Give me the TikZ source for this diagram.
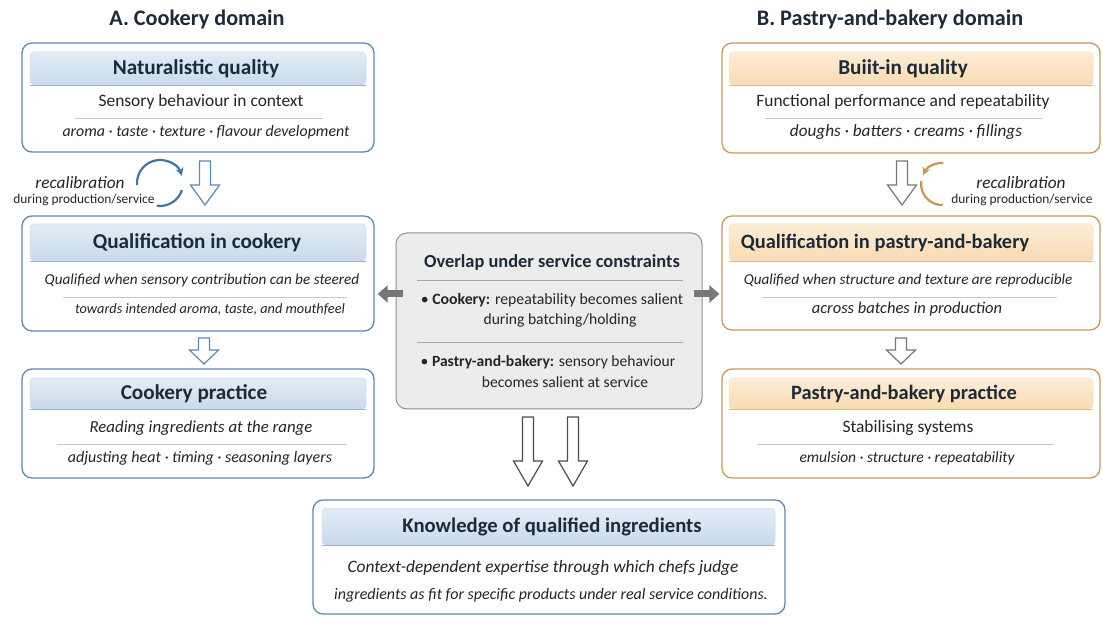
\documentclass[tikz,border=0pt]{standalone}
\usepackage{fontspec}
\setmainfont{Carlito}
\usetikzlibrary{arrows.meta,positioning}

\definecolor{borderA}{HTML}{5D88B3}
\definecolor{bandAtop}{HTML}{E2ECF6}
\definecolor{bandAbot}{HTML}{C9DAEB}
\definecolor{bandAline}{HTML}{98B2CC}
\definecolor{borderB}{HTML}{C99A5B}
\definecolor{bandBtop}{HTML}{FDEDD6}
\definecolor{bandBbot}{HTML}{F8DBB2}
\definecolor{bandBline}{HTML}{E0B985}
\definecolor{overlapfill}{HTML}{ECECEC}
\definecolor{overlapdraw}{HTML}{909090}
\definecolor{headtext}{HTML}{1D2A3A}
\definecolor{bodytext}{HTML}{252525}
\definecolor{sepgray}{HTML}{C6C6C6}
\definecolor{arrowgray}{HTML}{777777}
\definecolor{recalA}{HTML}{3F74A8}
\definecolor{recalB}{HTML}{C9964D}

% hollow block arrow: x, top, head start, tip, colour
\newcommand{\hollowarrow}[5]{%
  \draw[hollow, draw=#5] (#1-5.5,#2) -- (#1+5.5,#2) -- (#1+5.5,#3) -- (#1+14.5,#3)
    -- (#1,#4) -- (#1-14.5,#3) -- (#1-5.5,#3) -- cycle;}

\begin{document}
\begin{tikzpicture}[x=1pt,y=-1pt,
  boxA/.style={draw=borderA, line width=1.3pt, rounded corners=10pt, fill=white, inner sep=0pt},
  boxB/.style={boxA, draw=borderB},
  bandA/.style={draw=bandAline!45, line width=0.5pt, top color=bandAtop, bottom color=bandAbot,
    rounded corners=4pt, inner sep=0pt,
    append after command={(\tikzlastnode.south west) edge[draw=bandAline, line width=1pt] (\tikzlastnode.south east)}},
  bandB/.style={draw=bandBline!45, line width=0.5pt, top color=bandBtop, bottom color=bandBbot,
    rounded corners=4pt, inner sep=0pt,
    append after command={(\tikzlastnode.south west) edge[draw=bandBline, line width=1pt] (\tikzlastnode.south east)}},
  overlapbox/.style={draw=overlapdraw, line width=1pt, rounded corners=11pt, fill=overlapfill, inner sep=0pt},
  domaintitle/.style={font=\fontsize{22.2}{26}\selectfont\bfseries, text=headtext},
  heading/.style={font=\fontsize{#1}{#1}\selectfont\bfseries, text=headtext, inner sep=0pt},
  heading/.default=21.2,
  body/.style={font=\fontsize{#1}{#1}\selectfont, text=bodytext, inner sep=0pt},
  body/.default=17.4,
  bodyit/.style={font=\fontsize{#1}{#1}\selectfont\itshape, text=bodytext, inner sep=0pt},
  bodyit/.default=16,
  sepline/.style={draw=sepgray, line width=0.8pt},
  hollow/.style={fill=white, line width=1.2pt, line join=miter},
  grayarrow/.style={draw=arrowgray, line width=7pt, -{Triangle[length=10pt,width=17pt]}},
  recal/.style={line width=2.2pt},
  recaltext/.style={font=\fontsize{17.3}{20}\selectfont\itshape, text=bodytext, inner sep=0pt},
  recalsmall/.style={font=\fontsize{13.4}{16}\selectfont, text=bodytext, inner sep=0pt}]

\useasboundingbox[fill=white] (0,0) rectangle (1103,617);

% domain titles
\node[domaintitle] (titleA) at (197,19) {A. Cookery domain};
\node[domaintitle] (titleB) at (890,19) {B. Pastry-and-bakery domain};

% ---- cookery column
\node[boxA, minimum width=352pt, minimum height=109pt] (natq) at (198,97.5) {};
\node[bandA, minimum width=336pt, minimum height=33pt] (natqband) at (198,68.5) {};
\node[heading] (natqtitle) at (196,69) {Naturalistic quality};
\node[body] (natqline) at (201,102) {Sensory behaviour in context};
\draw[sepline] (75,118) -- (323,118);
\node[bodyit=15.9] (natqlist) at (206,132) {aroma · taste · texture · flavour development};

\node[boxA, minimum width=352pt, minimum height=115pt] (qualA) at (198,273.5) {};
\node[bandA, minimum width=336pt, minimum height=37pt] (qualAband) at (198,242.5) {};
\node[heading] (qualAtitle) at (197,243) {Qualification in cookery};
\node[bodyit=15.2] (qualAline) at (202,280) {Qualified when sensory contribution can be steered};
\draw[sepline] (63,297) -- (347,297);
\node[bodyit=14.3] (qualAlist) at (210,309) {towards intended aroma, taste, and mouthfeel};

\node[boxA, minimum width=352pt, minimum height=109pt] (pracA) at (198,423.5) {};
\node[bandA, minimum width=336pt, minimum height=31pt] (pracAband) at (198,393.5) {};
\node[heading] (pracAtitle) at (194,394) {Cookery practice};
\node[bodyit=16.8] (pracAline) at (201,428) {Reading ingredients at the range};
\draw[sepline] (57,444) -- (347,444);
\node[bodyit=16] (pracAlist) at (200,458) {adjusting heat · timing · seasoning layers};

% recalibration, cookery
\draw[recal, draw=recalA, -{Stealth[length=8pt,width=8pt]}] (160,183) ++(-185:23) arc[start angle=-185, end angle=-18, radius=23];
\draw[recal, draw=recalA] (160,183) ++(-262:23) arc[start angle=-262, end angle=-342, radius=23];
\node[recaltext] (recalAtext) at (80,183) {recalibration};
\node[recalsmall] (recalAsub) at (84,200) {during production/service};

\hollowarrow{205}{161}{185}{205}{borderA}
\hollowarrow{204}{338}{350}{364}{borderA}

% ---- pastry-and-bakery column
\node[boxB, minimum width=378pt, minimum height=110pt] (builtq) at (911,98) {};
\node[bandB, minimum width=364pt, minimum height=33pt] (builtqband) at (911,68.5) {};
\node[heading] (builtqtitle) at (903,69) {Buiit-in quality};
\node[body] (builtqline) at (903,102) {Functional performance and repeatability};
\draw[sepline] (765,118) -- (1042,118);
\node[bodyit=17.2] (builtqlist) at (906,132) {doughs · batters · creams · fillings};

\node[boxB, minimum width=378pt, minimum height=114pt] (qualB) at (911,273) {};
\node[bandB, minimum width=364pt, minimum height=37pt] (qualBband) at (911,242.5) {};
\node[heading=20.4] (qualBtitle) at (885,243) {Qualification in pastry-and-bakery};
\node[bodyit=15.1] (qualBline) at (908,280) {Qualified when structure and texture are reproducible};
\draw[sepline] (762,297) -- (1057,297);
\node[bodyit=16.5] (qualBlist) at (907,309) {across batches in production};

\node[boxB, minimum width=378pt, minimum height=109pt] (pracB) at (911,423.5) {};
\node[bandB, minimum width=364pt, minimum height=31pt] (pracBband) at (911,393.5) {};
\node[heading=20.4] (pracBtitle) at (904,394) {Pastry-and-bakery practice};
\node[body] (pracBline) at (908,428) {Stabilising systems};
\draw[sepline] (757,444) -- (1053,444);
\node[bodyit=15.5] (pracBlist) at (907,458) {emulsion · structure · repeatability};

% recalibration, pastry
\draw[recal, draw=recalB, -{Stealth[length=8pt,width=8pt]}] (942,184) ++(-86:21) arc[start angle=-86, end angle=-155, radius=21];
\draw[recal, draw=recalB] (942,184) ++(-172:21) arc[start angle=-172, end angle=-272, radius=21];
\node[recaltext] (recalBtext) at (1021,183) {recalibration};
\node[recalsmall] (recalBsub) at (1022,200) {during production/service};

\hollowarrow{902}{161}{185}{205}{arrowgray}
\hollowarrow{901}{338}{350}{364}{arrowgray}

% ---- overlap
\node[overlapbox, minimum width=306pt, minimum height=176pt] (overlap) at (549,321) {};
\node[heading=18.4] (overlaptitle) at (552,262) {Overlap under service constraints};
\draw[sepline, draw=overlapdraw!80] (417,280) -- (683,280);
\node[body=15.8] (cookbullet) at (552,300) {• \textbf{Cookery:} repeatability becomes salient};
\node[body=15.6] (cookbulletb) at (560,320) {during batching/holding};
\draw[sepline, draw=overlapdraw!80] (417,342) -- (683,342);
\node[body=15.6] (pastrybullet) at (548,362) {• \textbf{Pastry-and-bakery:} sensory behaviour};
\node[body=15.6] (pastrybulletb) at (565,382) {becomes salient at service};

\draw[grayarrow, shorten >=3pt] ([xshift=7pt]overlap.west |- 0,294) -- (qualA.east |- 0,294);
\draw[grayarrow, shorten >=2pt] ([xshift=-9pt]overlap.east |- 0,294) -- (qualB.west |- 0,294);

\hollowarrow{528}{417}{461}{486}{black!70}
\hollowarrow{573}{417}{461}{486}{black!70}

% ---- knowledge
\node[boxA, minimum width=472pt, minimum height=114pt] (knowledge) at (549,557) {};
\node[bandA, minimum width=453pt, minimum height=37pt] (knowledgeband) at (548.5,526.5) {};
\node[heading=20.7] (knowledgetitle) at (552,527) {Knowledge of qualified ingredients};
\node[bodyit=17.4] (knowledgeline) at (543,568) {Context-dependent expertise through which chefs judge};
\node[bodyit=16] (knowledgelineb) at (551,595) {ingredients as fit for specific products under real service conditions.};
\end{tikzpicture}
\end{document}
